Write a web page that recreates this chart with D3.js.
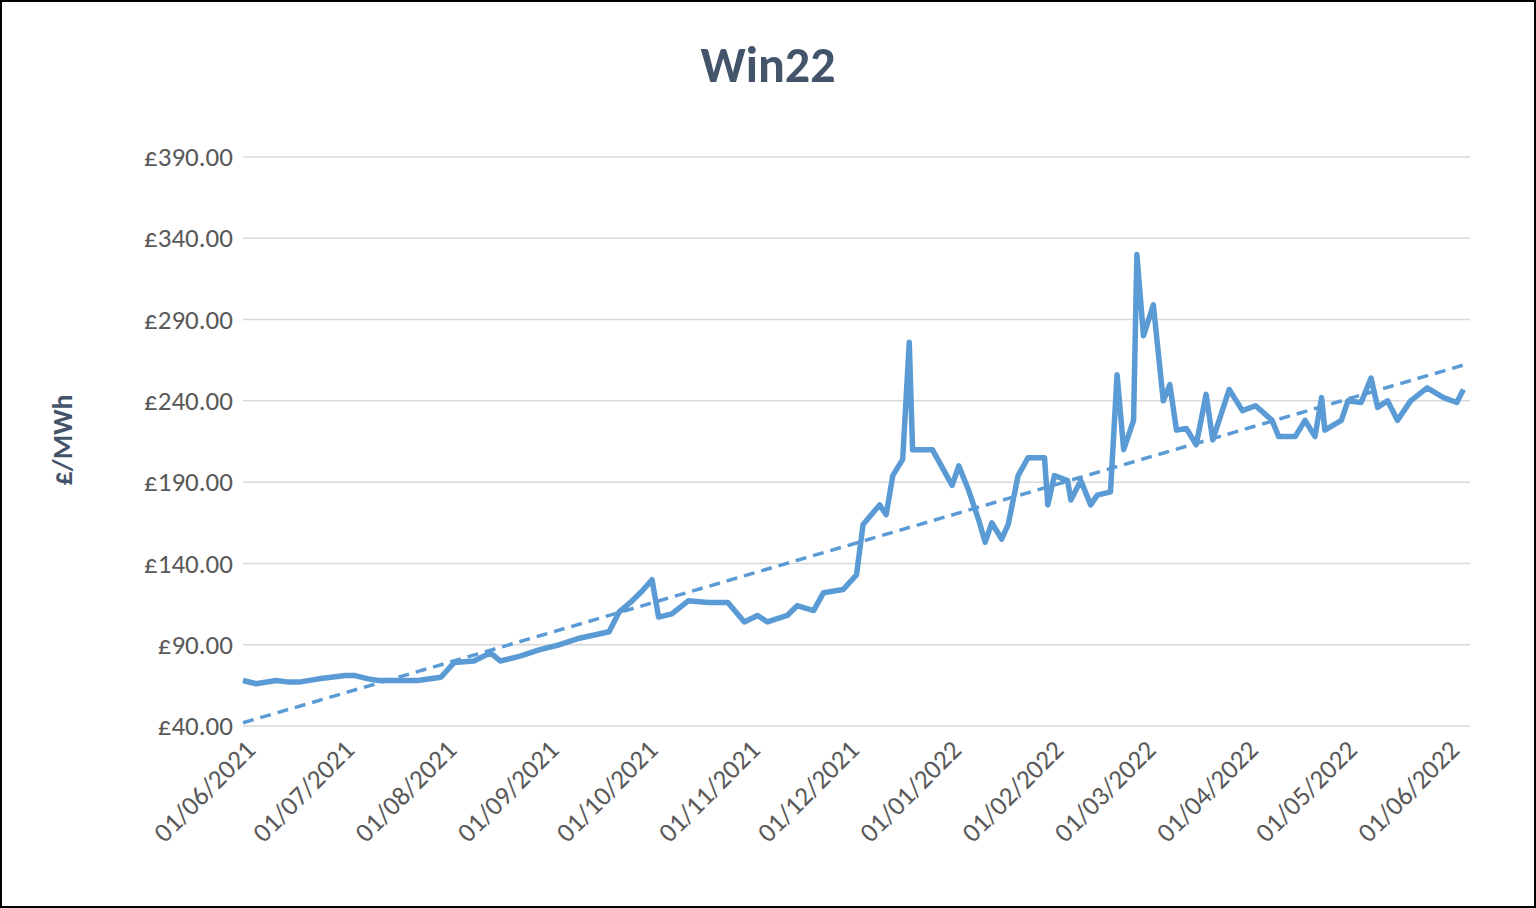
<!DOCTYPE html>
<html><head><meta charset="utf-8">
<script src="https://cdn.jsdelivr.net/npm/d3@7/dist/d3.min.js"></script>
<style>
body{margin:0;background:#fff;font-family:Calibri,Carlito,"Open Sans",sans-serif}
</style></head>
<body><svg id="chart" width="1536" height="908"></svg>
<script>
var dates = ['2021-06-01','2021-06-05','2021-06-11','2021-06-15','2021-06-18','2021-06-24','2021-07-02','2021-07-05','2021-07-09','2021-07-12',
  '2021-07-24','2021-07-31','2021-08-04','2021-08-10','2021-08-15','2021-08-18','2021-08-24','2021-08-30','2021-09-05','2021-09-11',
  '2021-09-20','2021-09-23','2021-09-27','2021-09-30','2021-10-03','2021-10-05','2021-10-09','2021-10-14','2021-10-20','2021-10-26',
  '2021-10-31','2021-11-04','2021-11-07','2021-11-13','2021-11-16','2021-11-21','2021-11-24','2021-11-30','2021-12-04','2021-12-06',
  '2021-12-11','2021-12-13','2021-12-15','2021-12-18','2021-12-20','2021-12-21','2021-12-27','2022-01-02','2022-01-04','2022-01-07',
  '2022-01-10','2022-01-12','2022-01-14','2022-01-17','2022-01-19','2022-01-22','2022-01-25','2022-01-30','2022-01-31','2022-02-02',
  '2022-02-06','2022-02-07','2022-02-10','2022-02-13','2022-02-15','2022-02-19','2022-02-21','2022-02-23','2022-02-26','2022-02-27',
  '2022-03-01','2022-03-04','2022-03-07','2022-03-09','2022-03-11','2022-03-14','2022-03-17','2022-03-20','2022-03-22','2022-03-27',
  '2022-03-31','2022-04-04','2022-04-09','2022-04-11','2022-04-16','2022-04-19','2022-04-22','2022-04-24','2022-04-25','2022-04-30',
  '2022-05-02','2022-05-06','2022-05-09','2022-05-11','2022-05-14','2022-05-17','2022-05-21','2022-05-26','2022-05-31','2022-06-04','2022-06-06'];
var prices = [68,66,68,67,67,69,71,71,69,68,
  68,70,79,80,85,80,83,87,90,94,
  98,110,117,123,130,107,109,117,116,116,
  104,108,104,108,114,111,122,124,133,164,
  176,170,194,204,276,210,210,188,200,185,
  167,153,165,155,164,194,205,205,176,194,
  191,179,191,176,182,184,256,210,228,330,
  280,299,240,250,222,223,213,244,216,247,
  234,237,228,218,218,228,218,242,222,228,
  240,239,254,236,240,228,240,248,242,239,247];
var trendDates = ['2021-06-01','2022-06-06'];
var trendValues = [42,262];
var yTicks = [40,90,140,190,240,290,340,390];
var xTicks = ['2021-06-01','2021-07-01','2021-08-01','2021-09-01','2021-10-01','2021-11-01','2021-12-01',
  '2022-01-01','2022-02-01','2022-03-01','2022-04-01','2022-05-01','2022-06-01'];

var parse = d3.timeParse('%Y-%m-%d'),
    fmt = d3.timeFormat('%d/%m/%Y'),
    font = 'Calibri,Carlito,"Open Sans",sans-serif',
    svg = d3.select('#chart');

svg.append('rect').attr('x',1).attr('y',1).attr('width',1534).attr('height',906)
  .attr('fill','#fff').attr('stroke','#000').attr('stroke-width',2);

var x = d3.scaleTime().domain([parse('2021-06-01'), parse('2022-06-08')]).range([243,1470]),
    y = d3.scaleLinear().domain([40,390]).range([726,157]);

svg.append('g').selectAll('line').data(yTicks).enter().append('line')
  .attr('x1',243).attr('x2',1470).attr('y1',function(d){return y(d);}).attr('y2',function(d){return y(d);})
  .attr('stroke','#d9d9d9').attr('stroke-width',1.5);

var yAxis = svg.append('g').attr('transform','translate(243,0)')
  .call(d3.axisLeft(y).tickValues(yTicks).tickSize(0).tickPadding(10).tickFormat(function(d){return '£'+d.toFixed(2);}));
yAxis.select('.domain').remove();
yAxis.selectAll('text').attr('font-size',27).attr('fill','#595959').attr('font-family',font);

var xAxis = svg.append('g').attr('transform','translate(0,736)')
  .call(d3.axisBottom(x).tickValues(xTicks.map(parse)).tickSize(0).tickFormat(fmt));
xAxis.select('.domain').remove();
xAxis.selectAll('text').attr('font-size',27).attr('fill','#595959').attr('font-family',font)
  .attr('text-anchor','end').attr('dy','0.7em').attr('transform','translate(-2,0) rotate(-45)');

var line = d3.line().x(function(d){return x(d[0]);}).y(function(d){return y(d[1]);});

svg.append('path').datum(dates.map(function(d,i){return [parse(d), prices[i]];}))
  .attr('d',line).attr('fill','none').attr('stroke','#5b9bd5').attr('stroke-width',5.5).attr('stroke-linejoin','round');

svg.append('path').datum(trendDates.map(function(d,i){return [parse(d), trendValues[i]];}))
  .attr('d',line).attr('fill','none').attr('stroke','#5b9bd5').attr('stroke-width',3.5).attr('stroke-dasharray','11,7');

svg.append('text').attr('x',768).attr('y',82).attr('text-anchor','middle').attr('font-family',font)
  .attr('font-size',50).attr('font-weight','bold').attr('fill','#44546a').text('Win22');

svg.append('text').attr('transform','translate(72,440) rotate(-90)').attr('text-anchor','middle').attr('font-family',font)
  .attr('font-size',28).attr('font-weight','bold').attr('fill','#44546a').text('£/MWh');
</script></body></html>
